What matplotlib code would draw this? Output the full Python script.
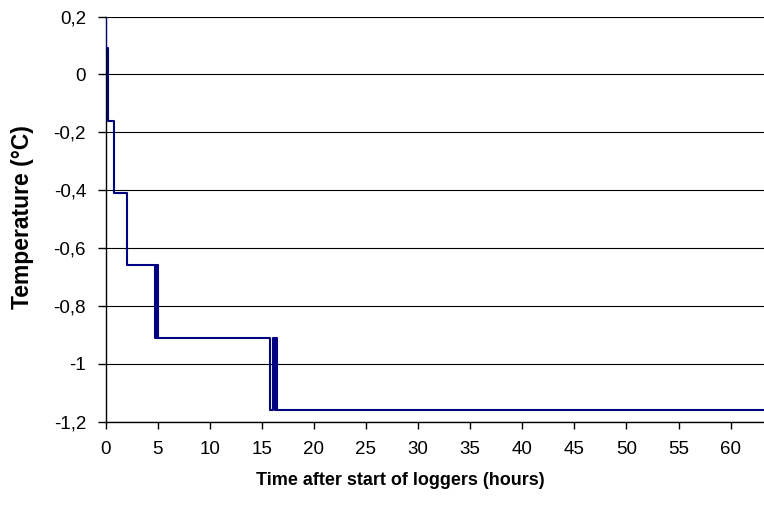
"""
Temperature recorded by the loggers during the first hours after start.
"""
import matplotlib.pyplot as plt
import numpy as np

# logger readings: time of each change (hours) and the temperature held from it
time_h = [0, 0.02, 0.2, 0.85, 2.08, 4.72, 4.80, 4.88, 4.95, 5.03,
          15.75, 16.12, 16.22, 16.33, 16.45, 63.2]
temp_c = [0.34, 0.09, -0.16, -0.41, -0.66, -0.91, -0.66, -0.91, -0.66, -0.91,
          -1.16, -0.91, -1.16, -0.91, -1.16, -1.16]

x_ticks = np.arange(0, 61, 5)
y_ticks = [0.2, 0, -0.2, -0.4, -0.6, -0.8, -1.0, -1.2]
y_labels = ['0,2', '0', '-0,2', '-0,4', '-0,6', '-0,8', '-1', '-1,2']


def plot_temperature():
    plt.rcParams['font.family'] = ['Liberation Sans', 'DejaVu Sans']

    fig = plt.figure(figsize=(7.64, 5.08), dpi=100)
    ax = fig.add_axes([0.1381, 0.1699, 0.8619, 0.7976])

    for y in y_ticks:
        ax.axhline(y, color='black', lw=0.8, zorder=1)

    ax.plot(time_h, temp_c, drawstyle='steps-post', color='#000080',
            lw=1.5, zorder=3)

    ax.set_xlim(0, 63.2)
    ax.set_ylim(-1.2, 0.2)
    ax.set_xticks(x_ticks)
    ax.set_yticks(y_ticks)
    ax.set_yticklabels(y_labels)

    for side in ('top', 'right'):
        ax.spines[side].set_visible(False)
    for side in ('left', 'bottom'):
        ax.spines[side].set_linewidth(1.0)
        ax.spines[side].set_color('black')

    ax.tick_params(axis='x', direction='out', length=5, width=1.0,
                   pad=9, labelsize=13.5)
    ax.tick_params(axis='y', direction='out', length=6, width=1.0,
                   pad=8, labelsize=13.5)

    ax.set_xlabel('Time after start of loggers (hours)', fontsize=13,
                  fontweight='bold')
    ax.xaxis.set_label_coords(0.448, -0.125)
    ax.set_ylabel('Temperature (\u00b0C)', fontsize=16.5, fontweight='bold')
    ax.yaxis.set_label_coords(-0.108, 0.505)

    fig.savefig('out.png', dpi=100)


if __name__ == '__main__':
    plot_temperature()
